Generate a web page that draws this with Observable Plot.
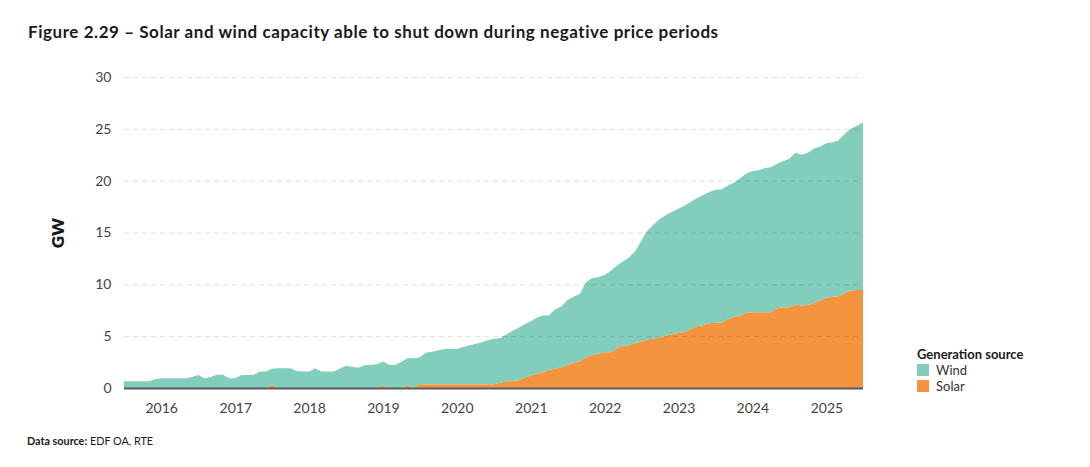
<!DOCTYPE html>
<html>
<head>
<meta charset="utf-8">
<script src="https://cdn.jsdelivr.net/npm/d3@7"></script>
<script src="https://cdn.jsdelivr.net/npm/@observablehq/plot@0.6"></script>
<style>
  html, body { margin: 0; padding: 0; background: #fff; }
  body { width: 1090px; height: 467px; position: relative; overflow: hidden; font-family: Lato, "Noto Sans", sans-serif; color: #1a1a1a; }
  #title { position: absolute; left: 28px; top: 21px; font-size: 17px; font-weight: 700; letter-spacing: 0.55px; white-space: nowrap; }
  #chart { position: absolute; left: 0; top: 55px; }
  #ylabel { position: absolute; left: 57px; top: 233px; transform: translate(-50%, -50%) rotate(-90deg); font-size: 17px; font-weight: 800; }
  #legend { position: absolute; left: 917px; top: 346px; font-size: 13px; }
  #legend .lt { font-weight: 700; margin-bottom: 0; }
  #legend .item { display: flex; align-items: center; height: 16px; color: #333; }
  #legend .sw { width: 12px; height: 12px; margin-right: 7px; }
  #caption { position: absolute; left: 27px; top: 434px; font-size: 10.8px; color: #1a1a1a; }
</style>
</head>
<body>
<div id="title">Figure 2.29 – Solar and wind capacity able to shut down during negative price periods</div>
<div id="chart"></div>
<div id="ylabel">GW</div>
<div id="legend"></div>
<div id="caption"><b>Data source:</b> EDF OA, RTE</div>
<script>
// Monthly series, July 2015 – July 2025 (GW)
const startYear = 2015, startMonth = 6; // July 2015 (0-based month)
const windGW = [
  0.65,0.65,0.65,0.65,0.65,0.85,0.94,0.94,0.94,0.94,0.94,1.05,
  1.26,0.94,1.05,1.29,1.29,0.94,0.94,1.26,1.26,1.26,1.58,1.58,
  1.55,1.9,1.9,1.9,1.65,1.58,1.58,1.9,1.58,1.58,1.58,1.85,
  2.15,2.05,1.95,2.2,2.23,2.3,2.3,2.25,2.23,2.5,2.62,2.87,
  2.6,3.05,3.15,3.3,3.42,3.42,3.42,3.6,3.75,3.9,4.05,4.25,
  4.39,4.3,4.5,4.85,5.05,5.15,5.25,5.4,5.5,5.25,5.75,5.85,
  6.3,6.35,6.5,7.2,7.45,7.4,7.45,7.85,8.0,8.1,8.5,8.85,
  9.75,10.5,11.05,11.4,11.65,11.8,12.0,12.2,12.25,12.35,12.55,12.65,
  12.8,12.85,12.9,12.95,13.2,13.45,13.6,13.7,13.9,14.0,13.9,14.1,
  14.3,14.65,14.55,14.7,14.9,14.85,14.9,14.9,15.05,15.35,15.6,15.85,
  16.15
];
const solarGW = [
  0,0,0,0,0,0,0,0,0,0,0,0,
  0,0,0,0,0,0,0,0,0,0,0,0,
  0.3,0,0,0,0,0,0,0,0,0,0,0,
  0,0,0,0,0,0,0.25,0,0,0,0.25,0,
  0.35,0.35,0.35,0.35,0.35,0.35,0.35,0.35,0.35,0.35,0.35,0.35,
  0.35,0.5,0.65,0.65,0.75,1.0,1.2,1.4,1.5,1.75,1.85,2.0,
  2.2,2.45,2.6,3.0,3.15,3.3,3.45,3.45,3.8,4.1,4.1,4.35,
  4.45,4.7,4.75,4.9,5.05,5.2,5.3,5.4,5.7,5.95,6.05,6.25,
  6.3,6.3,6.6,6.85,7.0,7.25,7.3,7.3,7.3,7.3,7.7,7.8,
  7.8,8.05,7.95,8.0,8.2,8.45,8.7,8.8,8.85,9.15,9.4,9.45,
  9.45
];
const sources = ["Wind", "Solar"];
const colors = ["#83cdbc", "#f5943f"];
const yTicks = [0, 5, 10, 15, 20, 25, 30];
const yearTicks = [2016, 2017, 2018, 2019, 2020, 2021, 2022, 2023, 2024, 2025];

const dates = windGW.map((_, i) => new Date(Date.UTC(startYear, startMonth + i, 1)));
const rows = [];
dates.forEach((d, i) => {
  rows.push({date: d, source: "Solar", value: solarGW[i]});
  rows.push({date: d, source: "Wind", value: windGW[i]});
});

const chart = Plot.plot({
  width: 1090,
  height: 375,
  marginLeft: 124,
  marginRight: 227,
  marginTop: 22,
  marginBottom: 42,
  style: {fontFamily: "Lato, 'Noto Sans', sans-serif", fontSize: "14px", color: "#444", background: "transparent"},
  x: {
    type: "utc",
    domain: [dates[0], dates[dates.length - 1]],
    ticks: yearTicks.map(y => new Date(Date.UTC(y, 0, 1))),
    tickFormat: d3.utcFormat("%Y"),
    tickSize: 0,
    tickPadding: 15,
    label: null
  },
  y: {
    domain: [0, 30],
    ticks: yTicks,
    tickSize: 0,
    tickPadding: 13,
    label: null
  },
  color: {domain: sources, range: colors},
  marks: [
    Plot.areaY(rows, {x: "date", y: "value", fill: "source", order: ["Solar", "Wind"], curve: "linear"}),
    Plot.gridY(yTicks.filter(t => t > 0), {stroke: "#000", strokeOpacity: 0.13, strokeDasharray: "5,4"}),
    Plot.ruleY([0], {stroke: "#5b5b5b", strokeWidth: 2})
  ]
});
document.getElementById("chart").appendChild(chart);

const legend = document.getElementById("legend");
legend.innerHTML = '<div class="lt">Generation source</div>' +
  sources.map((s, i) => `<div class="item"><span class="sw" style="background:${colors[i]}"></span>${s}</div>`).join("");
</script>
</body>
</html>
